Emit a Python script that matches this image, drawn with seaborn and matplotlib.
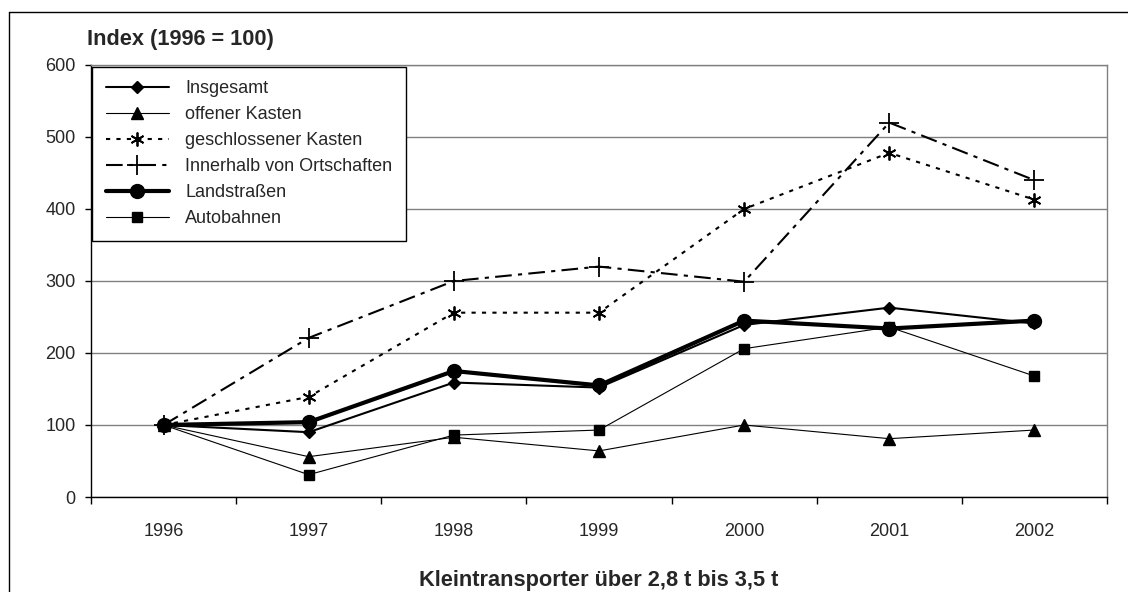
import matplotlib
matplotlib.use("Agg")
import matplotlib.pyplot as plt
import seaborn as sns
import numpy as np
from matplotlib.lines import Line2D

years = [1996, 1997, 1998, 1999, 2000, 2001, 2002]
insgesamt = [100, 90, 159, 152, 239, 263, 241]
offener_kasten = [100, 56, 83, 64, 100, 81, 93]
geschlossener_kasten = [100, 139, 256, 256, 400, 478, 413]
innerhalb = [100, 221, 300, 320, 299, 520, 440]
landstrassen = [100, 104, 175, 155, 245, 234, 245]
autobahnen = [100, 31, 86, 93, 206, 236, 168]

labels = ["Insgesamt", "offener Kasten", "geschlossener Kasten",
          "Innerhalb von Ortschaften", "Landstraßen", "Autobahnen"]
y_ticks = [0, 100, 200, 300, 400, 500, 600]
title = "Index (1996 = 100)"
xlabel = "Kleintransporter über 2,8 t bis 3,5 t"

sns.set_theme(style="white")
plt.rcParams['font.family'] = ['Liberation Sans', 'DejaVu Sans']

FS = 13
FSB = 15.7

fig = plt.figure(figsize=(11.28, 5.92), dpi=100)
ax = fig.add_axes([91/1128, 1-497/592, (1107-91)/1128, (497-65)/592])

styles = [
    dict(lw=1.5, ls='-', marker='D', ms=6.5),
    dict(lw=0.8, ls='-', marker='^', ms=8),
    dict(lw=1.5, ls=(0, (2, 3)), marker=(6, 2, 0), ms=10, mew=1.3),
    dict(lw=1.5, ls=(0, (8, 3, 2, 3)), marker='+', ms=14, mew=1.3),
    dict(lw=3.0, ls='-', marker='o', ms=10),
    dict(lw=0.8, ls='-', marker='s', ms=6.5),
]
series = [insgesamt, offener_kasten, geschlossener_kasten, innerhalb, landstrassen, autobahnen]

handles = []
for vals, lab, st in zip(series, labels, styles):
    sns.lineplot(x=years, y=vals, ax=ax, color='black', linewidth=st['lw'],
                 linestyle=st['ls'], marker=st['marker'], markersize=st['ms'],
                 markeredgewidth=st.get('mew', 1.0), markeredgecolor='black',
                 markerfacecolor='black', label=lab, legend=False, zorder=3)
    handles.append(Line2D([], [], color='black', lw=st['lw'], ls=st['ls'],
                          marker=st['marker'], ms=st['ms'], mew=st.get('mew', 1.0),
                          mfc='black', mec='black'))

ax.set_xlim(years[0] - 0.5, years[-1] + 0.5)
ax.set_ylim(0, 600)
ax.set_yticks(y_ticks)
ax.set_yticklabels([str(v) for v in y_ticks], fontsize=FS)
ax.set_xticks([y - 0.5 for y in years] + [years[-1] + 0.5])
ax.set_xticklabels([])
ax.set_xticks(years, minor=True)
ax.set_xticklabels([str(y) for y in years], minor=True, fontsize=FS)
ax.tick_params(axis='x', which='major', direction='out', length=5, width=1, color='black', bottom=True)
ax.tick_params(axis='x', which='minor', length=0, pad=19)
ax.tick_params(axis='y', direction='out', length=4, width=1, color='black', left=True, pad=7)

ax.yaxis.grid(True, color='#808080', lw=1)
ax.xaxis.grid(False)
ax.set_axisbelow(True)
for side in ['top', 'right']:
    ax.spines[side].set_color('#808080')
    ax.spines[side].set_linewidth(1)
for side in ['left', 'bottom']:
    ax.spines[side].set_color('black')
    ax.spines[side].set_linewidth(1)

ax.set_xlabel(xlabel, fontsize=FSB, fontweight='bold', labelpad=21)
ax.set_ylabel("")
fig.text(87/1128, 1-40/592, title, fontsize=FSB, fontweight='bold', ha='left', va='center')

leg = ax.legend(handles, labels, loc='upper left', bbox_to_anchor=(0.001, 0.996),
                borderaxespad=0, fontsize=FS, frameon=True, fancybox=False,
                handlelength=3.5, handletextpad=0.9, labelspacing=0.5,
                borderpad=0.75, edgecolor='black', framealpha=1)
leg.get_frame().set_linewidth(1)

# figure border (left and top visible)
fig.add_artist(Line2D([9/1128, 9/1128], [0, 1-12/592], transform=fig.transFigure, color='black', lw=1))
fig.add_artist(Line2D([9/1128, 1], [1-12/592, 1-12/592], transform=fig.transFigure, color='black', lw=1))

fig.savefig("out.png", dpi=100)
